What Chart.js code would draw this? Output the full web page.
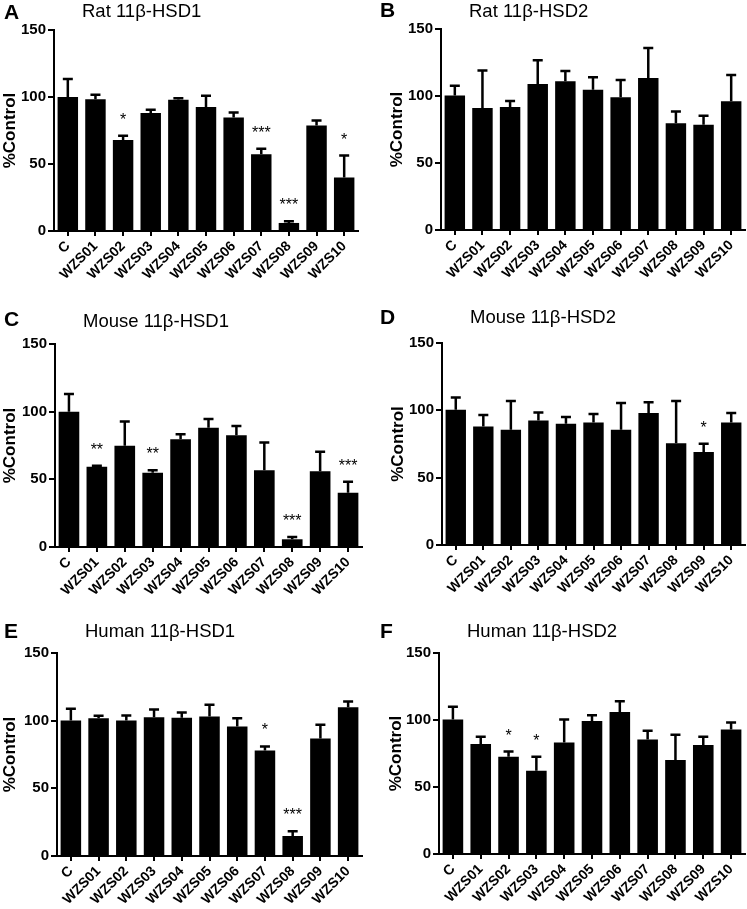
<!DOCTYPE html>
<html>
<head>
<meta charset="utf-8">
<script src="https://cdn.jsdelivr.net/npm/chart.js@4.4.0/dist/chart.umd.min.js"></script>
<style>
  body { margin: 0; background: #fff; }
  #wrap { position: relative; width: 747px; height: 909px; }
  canvas { position: absolute; }
</style>
</head>
<body>
<div id="wrap">
  <canvas id="panelA" width="374" height="300" style="left:0;top:0"></canvas>
  <canvas id="panelB" width="373" height="300" style="left:374px;top:0"></canvas>
  <canvas id="panelC" width="374" height="300" style="left:0;top:300px"></canvas>
  <canvas id="panelD" width="373" height="300" style="left:374px;top:300px"></canvas>
  <canvas id="panelE" width="374" height="309" style="left:0;top:600px"></canvas>
  <canvas id="panelF" width="373" height="309" style="left:374px;top:600px"></canvas>
</div>
<script>
const categories = ['C', 'WZS01', 'WZS02', 'WZS03', 'WZS04', 'WZS05', 'WZS06', 'WZS07', 'WZS08', 'WZS09', 'WZS10'];
const yTicks = [0, 50, 100, 150];

// mean %control, SEM, significance marks
const ratHsd1 = [100, 98.4, 68, 88, 98, 92.5, 84.7, 57.3, 6, 78.8, 40];
const ratHsd1Sem = [13.4, 3.3, 3, 2.5, 1, 8.5, 3.8, 4, 1.2, 3.7, 16.3];
const ratHsd1Sig = ['', '', '*', '', '', '', '', '***', '***', '', '*'];

const ratHsd2 = [100.4, 91, 91.7, 109, 111, 104.7, 99, 113.4, 79.7, 78.5, 96];
const ratHsd2Sem = [7.3, 28, 4.5, 17.6, 7.6, 9.3, 13, 22.4, 8.8, 6.7, 19.6];
const ratHsd2Sig = ['', '', '', '', '', '', '', '', '', '', ''];

const mouseHsd1 = [100, 59.3, 74.9, 54.9, 79.6, 88.2, 82.5, 56.8, 5.7, 56, 40];
const mouseHsd1Sem = [13, 0.7, 17.8, 1.9, 3.7, 6.4, 6.9, 20.5, 1.7, 14.4, 8.2];
const mouseHsd1Sig = ['', '**', '', '**', '', '', '', '', '***', '', '***'];

const mouseHsd2 = [100.4, 88, 85.5, 92.5, 90, 91, 85.5, 98, 75.6, 69, 91];
const mouseHsd2Sem = [9.2, 8.5, 21.5, 5.9, 5, 6.2, 19.9, 8, 31.4, 6.1, 7];
const mouseHsd2Sig = ['', '', '', '', '', '', '', '', '', '*', ''];

const humanHsd1 = [100.2, 101.7, 100.2, 102.6, 102.1, 103.1, 95.7, 78, 14.8, 86.8, 110];
const humanHsd1Sem = [8.6, 1.9, 3.7, 5.7, 3.9, 8.7, 6, 3, 3.5, 10.2, 4.2];
const humanHsd1Sig = ['', '', '', '', '', '', '', '*', '***', '', ''];

const humanHsd2 = [100.4, 82, 72.6, 62.2, 83.3, 99.2, 105.9, 85.5, 70.2, 81.3, 93];
const humanHsd2Sem = [9.4, 5.5, 3.8, 10.4, 17.1, 4.4, 8.1, 6.5, 18.8, 6.2, 5.2];
const humanHsd2Sig = ['', '', '*', '*', '', '', '', '', '', '', ''];

const FONT = '"Liberation Sans", Arial, Helvetica, sans-serif';

// error bars (upper only) + significance stars
const errorBarPlugin = {
  id: 'errorBars',
  afterDatasetsDraw(chart) {
    const ctx = chart.ctx;
    const ds = chart.data.datasets[0];
    const meta = chart.getDatasetMeta(0);
    const y = chart.scales.y;
    ctx.save();
    ctx.strokeStyle = '#000';
    ctx.fillStyle = '#000';
    ctx.lineWidth = 2.5;
    ctx.font = '16px ' + FONT;
    ctx.textAlign = 'center';
    ctx.textBaseline = 'alphabetic';
    meta.data.forEach((bar, i) => {
      const top = y.getPixelForValue(ds.data[i] + ds.sem[i]);
      ctx.beginPath();
      ctx.moveTo(bar.x, bar.y);
      ctx.lineTo(bar.x, top);
      ctx.moveTo(bar.x - 5, top);
      ctx.lineTo(bar.x + 5, top);
      ctx.stroke();
      if (ds.sig[i]) {
        ctx.fillText(ds.sig[i], bar.x, top - 20 + 9);
      }
    });
    ctx.restore();
  }
};

function headerPlugin(letter, title, lay) {
  return {
    id: 'header',
    afterDraw(chart) {
      const ctx = chart.ctx;
      ctx.save();
      ctx.fillStyle = '#000';
      ctx.textBaseline = 'middle';
      ctx.textAlign = 'left';
      ctx.font = 'bold 21px ' + FONT;
      ctx.fillText(letter, lay.letterX, lay.letterY);
      ctx.font = '18.5px ' + FONT;
      ctx.fillText(title, chart.chartArea.left + 28, lay.titleY);
      ctx.restore();
    }
  };
}

function makePanel(id, letter, title, values, sem, sig, lay) {
  return new Chart(document.getElementById(id), {
    type: 'bar',
    data: {
      labels: categories,
      datasets: [{
        data: values,
        sem: sem,
        sig: sig,
        backgroundColor: '#000',
        borderWidth: 0,
        barPercentage: 0.74,
        categoryPercentage: 1.0
      }]
    },
    options: {
      responsive: false,
      animation: false,
      layout: {
        padding: { left: lay.padLeft, top: lay.top, right: lay.padRight, bottom: 0 }
      },
      plugins: {
        legend: { display: false },
        tooltip: { enabled: false }
      },
      scales: {
        x: {
          grid: { offset: false, drawOnChartArea: false, tickLength: 5, color: '#000', lineWidth: 2 },
          border: { color: '#000', width: 2 },
          ticks: {
            autoSkip: false, maxRotation: 45, minRotation: 45, padding: 2,
            color: '#000', font: { family: FONT, size: 14, weight: 'bold' }
          },
          afterFit(scale) { scale.height = lay.xHeight; }
        },
        y: {
          min: 0,
          max: 150,
          afterBuildTicks(scale) { scale.ticks = yTicks.map(v => ({ value: v })); },
          grid: { drawOnChartArea: false, tickLength: 6, color: '#000', lineWidth: 2 },
          border: { color: '#000', width: 2 },
          ticks: { padding: 2, color: '#000', font: { family: FONT, size: 15, weight: 'bold' } },
          title: {
            display: true, text: '%Control', color: '#000',
            font: { family: FONT, size: 17, weight: 'bold' },
            padding: { top: 0, bottom: 3 }
          },
          afterFit(scale) { scale.width = lay.yWidth; }
        }
      }
    },
    plugins: [errorBarPlugin, headerPlugin(letter, title, lay)]
  });
}

makePanel('panelA', 'A', 'Rat 11\u03B2-HSD1', ratHsd1, ratHsd1Sem, ratHsd1Sig,
  { padLeft: 0, yWidth: 54, top: 30, padRight: 16, xHeight: 69, letterX: 4, letterY: 13, titleY: 12 });
makePanel('panelB', 'B', 'Rat 11\u03B2-HSD2', ratHsd2, ratHsd2Sem, ratHsd2Sig,
  { padLeft: 13, yWidth: 54, top: 29, padRight: 2, xHeight: 70, letterX: 6, letterY: 11, titleY: 12 });
makePanel('panelC', 'C', 'Mouse 11\u03B2-HSD1', mouseHsd1, mouseHsd1Sem, mouseHsd1Sig,
  { padLeft: 0, yWidth: 55, top: 44, padRight: 12, xHeight: 53, letterX: 4, letterY: 20, titleY: 22 });
makePanel('panelD', 'D', 'Mouse 11\u03B2-HSD2', mouseHsd2, mouseHsd2Sem, mouseHsd2Sig,
  { padLeft: 14, yWidth: 54, top: 43, padRight: 2, xHeight: 55, letterX: 6, letterY: 18, titleY: 18 });
makePanel('panelE', 'E', 'Human 11\u03B2-HSD1', humanHsd1, humanHsd1Sem, humanHsd1Sig,
  { padLeft: 0, yWidth: 57, top: 53, padRight: 12, xHeight: 53, letterX: 4, letterY: 32, titleY: 32 });
makePanel('panelF', 'F', 'Human 11\u03B2-HSD2', humanHsd2, humanHsd2Sem, humanHsd2Sig,
  { padLeft: 12, yWidth: 53, top: 53, padRight: 2, xHeight: 55, letterX: 6, letterY: 32, titleY: 32 });
</script>
</body>
</html>
